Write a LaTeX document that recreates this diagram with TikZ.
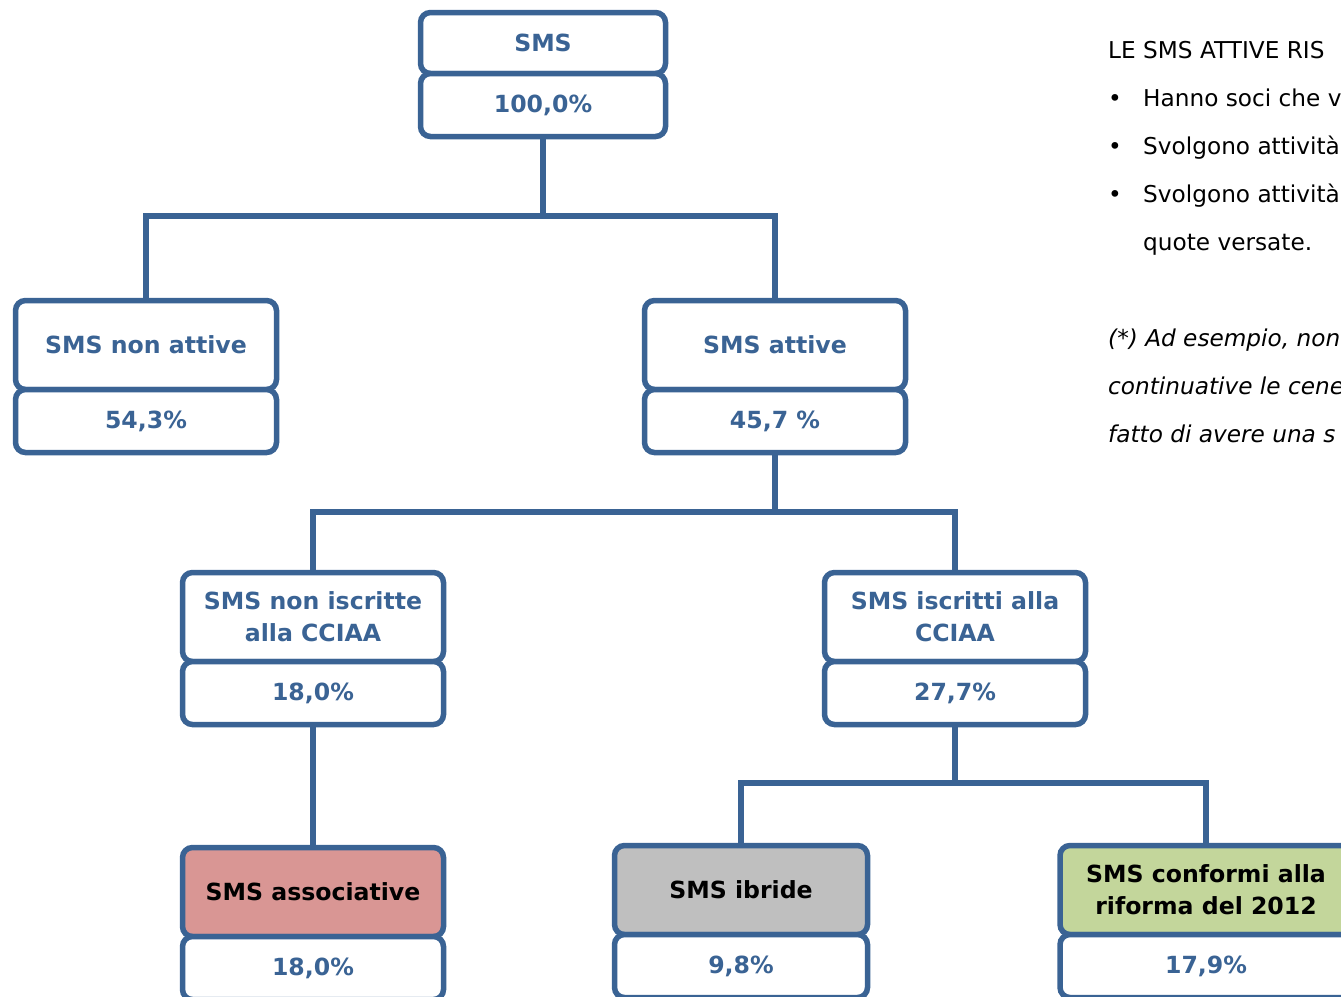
\documentclass[tikz,border=0pt]{standalone}
\usepackage{fontspec}
\setmainfont{DejaVu Sans}
\usetikzlibrary{positioning}
\definecolor{smsblue}{HTML}{3A6394}
\definecolor{assocred}{HTML}{D99694}
\definecolor{ibrgray}{HTML}{BFBFBF}
\definecolor{confgreen}{HTML}{C3D69B}
\begin{document}
\begin{tikzpicture}[x = 1pt, y = -1pt,
    titlebox/.style = {draw = smsblue, fill = white, line width = 5.5pt, rounded corners = 10pt,
      outer sep = 0pt, minimum width = 261pt, minimum height = 89pt, align = center,
      text = smsblue, font = \fontsize{23.6}{32}\selectfont\bfseries},
    valbox/.style = {titlebox, minimum height = 63pt},
    conn/.style = {draw = smsblue, line width = 5.5pt},
    note/.style = {anchor = base west, inner sep = 0pt, font = \fontsize{23.2}{26}\selectfont}]
  \useasboundingbox (0, 0) rectangle (1341, 996);
  \clip (0, 0) rectangle (1341, 996);

  % tree
  \node [titlebox, minimum width = 245pt, minimum height = 61pt] (sms) at (543, 43) {SMS};
  \node [valbox, minimum width = 245pt, below = 0pt of sms] (smsv) {100,0\%};

  \node [titlebox] (nonatt) at (146, 345) {SMS non attive};
  \node [valbox, below = 0pt of nonatt] (nonattv) {54,3\%};
  \node [titlebox] (att) at (775, 345) {SMS attive};
  \node [valbox, below = 0pt of att] (attv) {45,7 \%};

  \node [titlebox] (noisc) at (313, 617) {SMS non iscritte\\alla CCIAA};
  \node [valbox, below = 0pt of noisc] (noiscv) {18,0\%};
  \node [titlebox] (isc) at (955, 617) {SMS iscritti alla\\CCIAA};
  \node [valbox, below = 0pt of isc] (iscv) {27,7\%};

  \node [titlebox, fill = assocred, text = black] (assoc) at (313, 892) {SMS associative};
  \node [valbox, below = 0pt of assoc] (assocv) {18,0\%};
  \node [titlebox, minimum width = 253pt, fill = ibrgray, text = black] (ibr) at (741, 890) {SMS ibride};
  \node [valbox, minimum width = 253pt, below = 0pt of ibr] (ibrv) {9,8\%};
  \node [titlebox, minimum width = 292pt, fill = confgreen, text = black] (conf) at (1206, 890) {SMS conformi alla\\riforma del 2012};
  \node [valbox, minimum width = 292pt, below = 0pt of conf] (confv) {17,9\%};

  \coordinate (j1) at (543, 216);
  \coordinate (j2) at (775, 512);
  \coordinate (j3) at (955, 783);
  \draw [conn] (smsv.south) -- (j1);
  \draw [conn] (nonatt.north) |- (j1) -| (att.north);
  \draw [conn] (attv.south) -- (j2);
  \draw [conn] (noisc.north) |- (j2) -| (isc.north);
  \draw [conn] (noiscv.south) -- (assoc.north);
  \draw [conn] (iscv.south) -- (j3);
  \draw [conn] (ibr.north) |- (j3) -| (conf.north);

  % notes on the right
  \node [note] (n1) at (1108, 58) {LE SMS ATTIVE RIS};
  \foreach \y/\txt [count = \i] in {106/Hanno soci che v, 154/Svolgono attività, 202/Svolgono attività} {
    \node [note] (b\i) at (1108, \y) {•};
    \node [note] (l\i) at (1143, \y) {\txt};
  }
  \node [note] (l4) at (1143, 250) {quote versate.};
  \node [note, font = \fontsize{23.2}{26}\selectfont\itshape] (s1) at (1108, 346) {(*) Ad esempio, non};
  \node [note, font = \fontsize{23.2}{26}\selectfont\itshape] (s2) at (1108, 394) {continuative le cene};
  \node [note, font = \fontsize{23.2}{26}\selectfont\itshape] (s3) at (1108, 442) {fatto di avere una s};
\end{tikzpicture}
\end{document}
